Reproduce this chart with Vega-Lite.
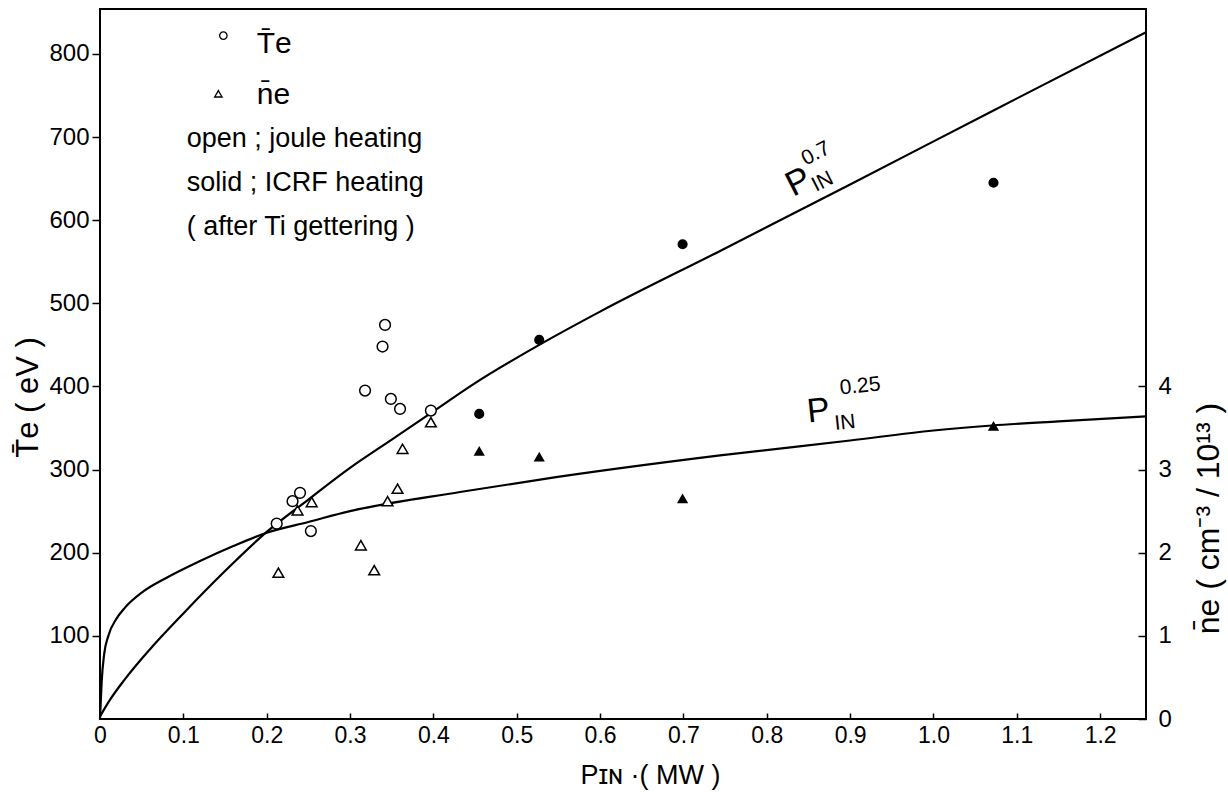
{
  "$schema": "https://vega.github.io/schema/vega-lite/v6.json",
  "width": 1046,
  "height": 710,
  "autosize": "none",
  "padding": {"left": 100, "top": 9, "right": 82, "bottom": 79},
  "background": "white",
  "config": {
    "view": {"stroke": "black", "strokeWidth": 2},
    "font": "Liberation Sans",
    "axis": {
      "grid": false,
      "domain": false,
      "labelFont": "Liberation Sans",
      "titleFont": "Liberation Sans",
      "labelColor": "black",
      "titleColor": "black",
      "tickColor": "black",
      "tickWidth": 1.5,
      "titleFontWeight": "normal",
      "labelFlush": false,
      "labelOverlap": false
    },
    "text": {"color": "black", "font": "Liberation Sans"}
  },
  "datasets": {
    "curves": [
      {"curve": "p07", "P": 0, "Te": 3},
      {"curve": "p07", "P": 0.01, "Te": 20},
      {"curve": "p07", "P": 0.03, "Te": 48},
      {"curve": "p07", "P": 0.06, "Te": 84},
      {"curve": "p07", "P": 0.1, "Te": 127},
      {"curve": "p07", "P": 0.15, "Te": 178},
      {"curve": "p07", "P": 0.2, "Te": 225},
      {"curve": "p07", "P": 0.25, "Te": 264},
      {"curve": "p07", "P": 0.3, "Te": 302},
      {"curve": "p07", "P": 0.35, "Te": 336},
      {"curve": "p07", "P": 0.4, "Te": 370},
      {"curve": "p07", "P": 0.45, "Te": 404},
      {"curve": "p07", "P": 0.527, "Te": 450},
      {"curve": "p07", "P": 0.6, "Te": 490},
      {"curve": "p07", "P": 0.744, "Te": 563},
      {"curve": "p07", "P": 0.9, "Te": 643},
      {"curve": "p07", "P": 1.072, "Te": 732},
      {"curve": "p07", "P": 1.255, "Te": 826},
      {"curve": "p025", "P": 0, "Te": 0},
      {"curve": "p025", "P": 0.002, "Te": 45},
      {"curve": "p025", "P": 0.005, "Te": 78},
      {"curve": "p025", "P": 0.01, "Te": 100},
      {"curve": "p025", "P": 0.02, "Te": 121},
      {"curve": "p025", "P": 0.03, "Te": 134},
      {"curve": "p025", "P": 0.05, "Te": 152},
      {"curve": "p025", "P": 0.08, "Te": 170},
      {"curve": "p025", "P": 0.12, "Te": 190},
      {"curve": "p025", "P": 0.16, "Te": 208},
      {"curve": "p025", "P": 0.2, "Te": 224},
      {"curve": "p025", "P": 0.25, "Te": 237},
      {"curve": "p025", "P": 0.3, "Te": 250},
      {"curve": "p025", "P": 0.432, "Te": 273},
      {"curve": "p025", "P": 0.528, "Te": 288},
      {"curve": "p025", "P": 0.744, "Te": 317},
      {"curve": "p025", "P": 0.9, "Te": 335},
      {"curve": "p025", "P": 1.0, "Te": 347},
      {"curve": "p025", "P": 1.07, "Te": 353},
      {"curve": "p025", "P": 1.15, "Te": 358},
      {"curve": "p025", "P": 1.255, "Te": 364}
    ],
    "te": [
      {"heating": "joule", "P": 0.212, "Te": 235},
      {"heating": "joule", "P": 0.231, "Te": 262},
      {"heating": "joule", "P": 0.24, "Te": 272},
      {"heating": "joule", "P": 0.253, "Te": 226},
      {"heating": "joule", "P": 0.318, "Te": 395},
      {"heating": "joule", "P": 0.339, "Te": 448},
      {"heating": "joule", "P": 0.342, "Te": 474},
      {"heating": "joule", "P": 0.349, "Te": 385},
      {"heating": "joule", "P": 0.36, "Te": 373},
      {"heating": "joule", "P": 0.397, "Te": 371},
      {"heating": "ICRF", "P": 0.455, "Te": 367},
      {"heating": "ICRF", "P": 0.527, "Te": 456},
      {"heating": "ICRF", "P": 0.699, "Te": 571},
      {"heating": "ICRF", "P": 1.072, "Te": 645}
    ],
    "ne": [
      {"heating": "joule", "P": 0.214, "ne": 1.76},
      {"heating": "joule", "P": 0.237, "ne": 2.51},
      {"heating": "joule", "P": 0.254, "ne": 2.61},
      {"heating": "joule", "P": 0.313, "ne": 2.09},
      {"heating": "joule", "P": 0.329, "ne": 1.79},
      {"heating": "joule", "P": 0.345, "ne": 2.62},
      {"heating": "joule", "P": 0.357, "ne": 2.77},
      {"heating": "joule", "P": 0.363, "ne": 3.25},
      {"heating": "joule", "P": 0.397, "ne": 3.57},
      {"heating": "ICRF", "P": 0.455, "ne": 3.22},
      {"heating": "ICRF", "P": 0.527, "ne": 3.15},
      {"heating": "ICRF", "P": 0.699, "ne": 2.65},
      {"heating": "ICRF", "P": 1.072, "ne": 3.52}
    ],
    "legCircle": [{"P": 0.148, "Te": 822}],
    "legTriangle": [{"P": 0.142, "Te": 752}],
    "legSym": [
      {"P": 0.188, "Te": 812, "label": "T̄e"},
      {"P": 0.188, "Te": 750, "label": "n̄e"}
    ],
    "legLines": [
      {"P": 0.104, "Te": 698, "label": "open ; joule heating"},
      {"P": 0.104, "Te": 645, "label": "solid ; ICRF heating"},
      {"P": 0.104, "Te": 592, "label": "( after Ti gettering )"}
    ],
    "lab07big": [{"P": 0.838, "Te": 646, "label": "P"}],
    "lab07small": [
      {"P": 0.867, "Te": 646, "label": "IN"},
      {"P": 0.859, "Te": 680, "label": "0.7"}
    ],
    "lab025big": [{"P": 0.862, "Te": 370, "label": "P"}],
    "lab025small": [
      {"P": 0.894, "Te": 356, "label": "IN"},
      {"P": 0.912, "Te": 400, "label": "0.25"}
    ]
  },
  "encoding": {
    "x": {
      "field": "P",
      "type": "quantitative",
      "scale": {"domain": [0, 1.255], "nice": false, "zero": false},
      "axis": {
        "values": [0, 0.1, 0.2, 0.3, 0.4, 0.5, 0.6, 0.7, 0.8, 0.9, 1.0, 1.1, 1.2],
        "labelExpr": "datum.value == 0 ? '0' : format(datum.value, '.1f')",
        "ticks": false,
        "labelPadding": 5,
        "labelFontSize": 23,
        "title": "Pɪɴ ·( MW )",
        "titleFontSize": 27,
        "titleX": 550,
        "titleY": 56,
        "titleBaseline": "middle",
        "titleAlign": "center"
      }
    }
  },
  "layer": [
    {
      "encoding": {
        "y": {
          "field": "Te",
          "type": "quantitative",
          "scale": {"domain": [0, 854], "nice": false, "zero": false},
          "axis": {
            "values": [100, 200, 300, 400, 500, 600, 700, 800],
            "tickSize": 8,
            "labelPadding": 3,
            "labelFontSize": 24,
            "title": "T̄e  ( eV )",
            "titleFontSize": 31,
            "titleX": -72,
            "titleY": 388,
            "titleAngle": 270,
            "titleBaseline": "middle",
            "titleAlign": "center"
          }
        }
      },
      "layer": [
        {
          "data": {"name": "curves"},
          "mark": {"type": "line", "color": "black", "strokeWidth": 2.2, "interpolate": "monotone"},
          "encoding": {"detail": {"field": "curve", "type": "nominal"}}
        },
        {
          "data": {"name": "te"},
          "mark": {"type": "point", "shape": "circle", "filled": true, "stroke": "black", "strokeWidth": 1.5, "opacity": 1},
          "encoding": {
            "fill": {"field": "heating", "type": "nominal", "scale": {"domain": ["joule", "ICRF"], "range": ["white", "black"]}, "legend": null},
            "size": {"field": "heating", "type": "ordinal", "scale": {"domain": ["joule", "ICRF"], "range": [115, 75]}, "legend": null}
          }
        },
        {
          "data": {"name": "legCircle"},
          "mark": {"type": "point", "shape": "circle", "filled": true, "fill": "white", "stroke": "black", "strokeWidth": 1.3, "size": 55, "opacity": 1}
        },
        {
          "data": {"name": "legTriangle"},
          "mark": {"type": "point", "shape": "triangle-up", "filled": true, "fill": "white", "stroke": "black", "strokeWidth": 1.3, "size": 55, "opacity": 1}
        },
        {
          "data": {"name": "legSym"},
          "mark": {"type": "text", "fontSize": 30, "align": "left", "baseline": "middle"},
          "encoding": {"text": {"field": "label"}}
        },
        {
          "data": {"name": "legLines"},
          "mark": {"type": "text", "fontSize": 27, "align": "left", "baseline": "middle"},
          "encoding": {"text": {"field": "label"}}
        },
        {
          "data": {"name": "lab07big"},
          "mark": {"type": "text", "fontSize": 35, "align": "center", "baseline": "middle", "angle": 333},
          "encoding": {"text": {"field": "label"}}
        },
        {
          "data": {"name": "lab07small"},
          "mark": {"type": "text", "fontSize": 21, "align": "center", "baseline": "middle", "angle": 333},
          "encoding": {"text": {"field": "label"}}
        },
        {
          "data": {"name": "lab025big"},
          "mark": {"type": "text", "fontSize": 34, "align": "center", "baseline": "middle", "angle": 354},
          "encoding": {"text": {"field": "label"}}
        },
        {
          "data": {"name": "lab025small"},
          "mark": {"type": "text", "fontSize": 21, "align": "center", "baseline": "middle", "angle": 354},
          "encoding": {"text": {"field": "label"}}
        }
      ]
    },
    {
      "data": {"name": "ne"},
      "mark": {"type": "point", "shape": "triangle-up", "filled": true, "stroke": "black", "strokeWidth": 1.5, "opacity": 1},
      "encoding": {
        "x": {
          "field": "P",
          "type": "quantitative",
          "scale": {"domain": [0, 1.255], "nice": false, "zero": false},
          "axis": {
            "orient": "top",
            "offset": -710,
            "values": [0.1, 0.2, 0.3, 0.4, 0.5, 0.6, 0.7, 0.8, 0.9, 1.0, 1.1, 1.2],
            "labels": false,
            "title": null,
            "tickSize": 6
          }
        },
        "y": {
          "field": "ne",
          "type": "quantitative",
          "scale": {"domain": [0, 8.54], "nice": false, "zero": false},
          "axis": {
            "orient": "left",
            "offset": -1046,
            "values": [0, 1, 2, 3, 4],
            "tickSize": 8,
            "labelAlign": "left",
            "labelPadding": -20,
            "labelFontSize": 24,
            "title": "n̄e   ( cm⁻³  /  10¹³ )",
            "titleFontSize": 32,
            "titleX": 62,
            "titleY": 509,
            "titleAngle": 270,
            "titleBaseline": "middle",
            "titleAlign": "center"
          }
        },
        "fill": {"field": "heating", "type": "nominal", "scale": {"domain": ["joule", "ICRF"], "range": ["white", "black"]}, "legend": null},
        "size": {"field": "heating", "type": "ordinal", "scale": {"domain": ["joule", "ICRF"], "range": [150, 90]}, "legend": null}
      }
    }
  ],
  "resolve": {"scale": {"y": "independent"}, "axis": {"x": "independent"}}
}
